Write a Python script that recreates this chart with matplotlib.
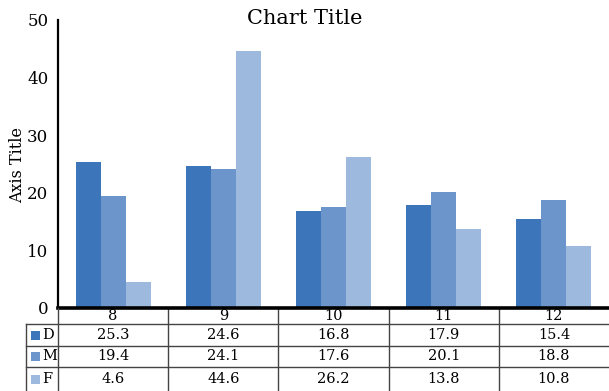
import numpy as np
import matplotlib.pyplot as plt
from matplotlib.transforms import blended_transform_factory

plt.rcParams['font.family'] = ['DejaVu Serif']

categories = ['8', '9', '10', '11', '12']
series = ['D', 'M', 'F']
d_vals = [25.3, 24.6, 16.8, 17.9, 15.4]
m_vals = [19.4, 24.1, 17.6, 20.1, 18.8]
f_vals = [4.6, 44.6, 26.2, 13.8, 10.8]
colors = ['#3c75b9', '#6c96cb', '#9db9dd']

W, H = 609, 391
fig = plt.figure(figsize=(W / 100, H / 100), dpi=100)
ax = fig.add_axes([58 / W, (H - 308) / H, (W - 58) / W, 288 / H])

x = np.arange(len(categories))
width = 0.227
for i, vals in enumerate([d_vals, m_vals, f_vals]):
    ax.bar(x + (i - 1) * width, vals, width, color=colors[i])

ax.set_xlim(-0.5, len(categories) - 0.5)
ax.set_ylim(0, 50)
ax.set_yticks([0, 10, 20, 30, 40, 50])
ax.tick_params(axis='y', length=0, labelsize=12, pad=7)
ax.set_xticks([])
for s in ['top', 'right']:
    ax.spines[s].set_visible(False)
ax.spines['left'].set_linewidth(1.6)
ax.spines['bottom'].set_linewidth(2.6)

fig.text(0.5, (H - 18) / H, 'Chart Title', ha='center', va='center', fontsize=15)
fig.text(18 / W, (H - 165) / H, 'Axis Title', rotation=90, ha='center', va='center', fontsize=11.5)

# data table under the plot: x in data units, y in figure pixels
tr = blended_transform_factory(ax.transData, fig.transFigure)
trfig = fig.transFigure

def fy(py):
    return (H - py) / H

row_edges = [308, 324, 346, 367, 391]
line_kw = dict(color='#444444', lw=1.0, clip_on=False)

# horizontal rules
for py in row_edges[1:4]:
    fig.add_artist(plt.Line2D([26 / W, 1], [fy(py), fy(py)], transform=trfig, **line_kw))
# vertical rules between categories
for b in np.arange(0.5, len(categories) - 1, 1.0):
    ax.plot([b, b], [fy(308), fy(391)], transform=tr, **line_kw)
fig.add_artist(plt.Line2D([58 / W, 58 / W], [fy(308), fy(391)], transform=trfig, **line_kw))
fig.add_artist(plt.Line2D([26 / W, 26 / W], [fy(324), fy(391)], transform=trfig, **line_kw))

# header row with categories
for xi, c in zip(x, categories):
    ax.text(xi, fy(316), c, transform=tr, ha='center', va='center', fontsize=10.5)

# series rows
for r, (name, vals) in enumerate(zip(series, [d_vals, m_vals, f_vals])):
    yc = fy((row_edges[r + 1] + row_edges[r + 2]) / 2)
    fig.add_artist(plt.Rectangle((31 / W, yc - 4.5 / H), 9 / W, 9 / H,
                                 transform=trfig, color=colors[r], lw=0))
    fig.text(42 / W, yc, name, ha='left', va='center', fontsize=10.5)
    for xi, v in zip(x, vals):
        ax.text(xi, yc, f'{v:.1f}', transform=tr, ha='center', va='center', fontsize=10.5)

fig.savefig('out.png', dpi=100)
